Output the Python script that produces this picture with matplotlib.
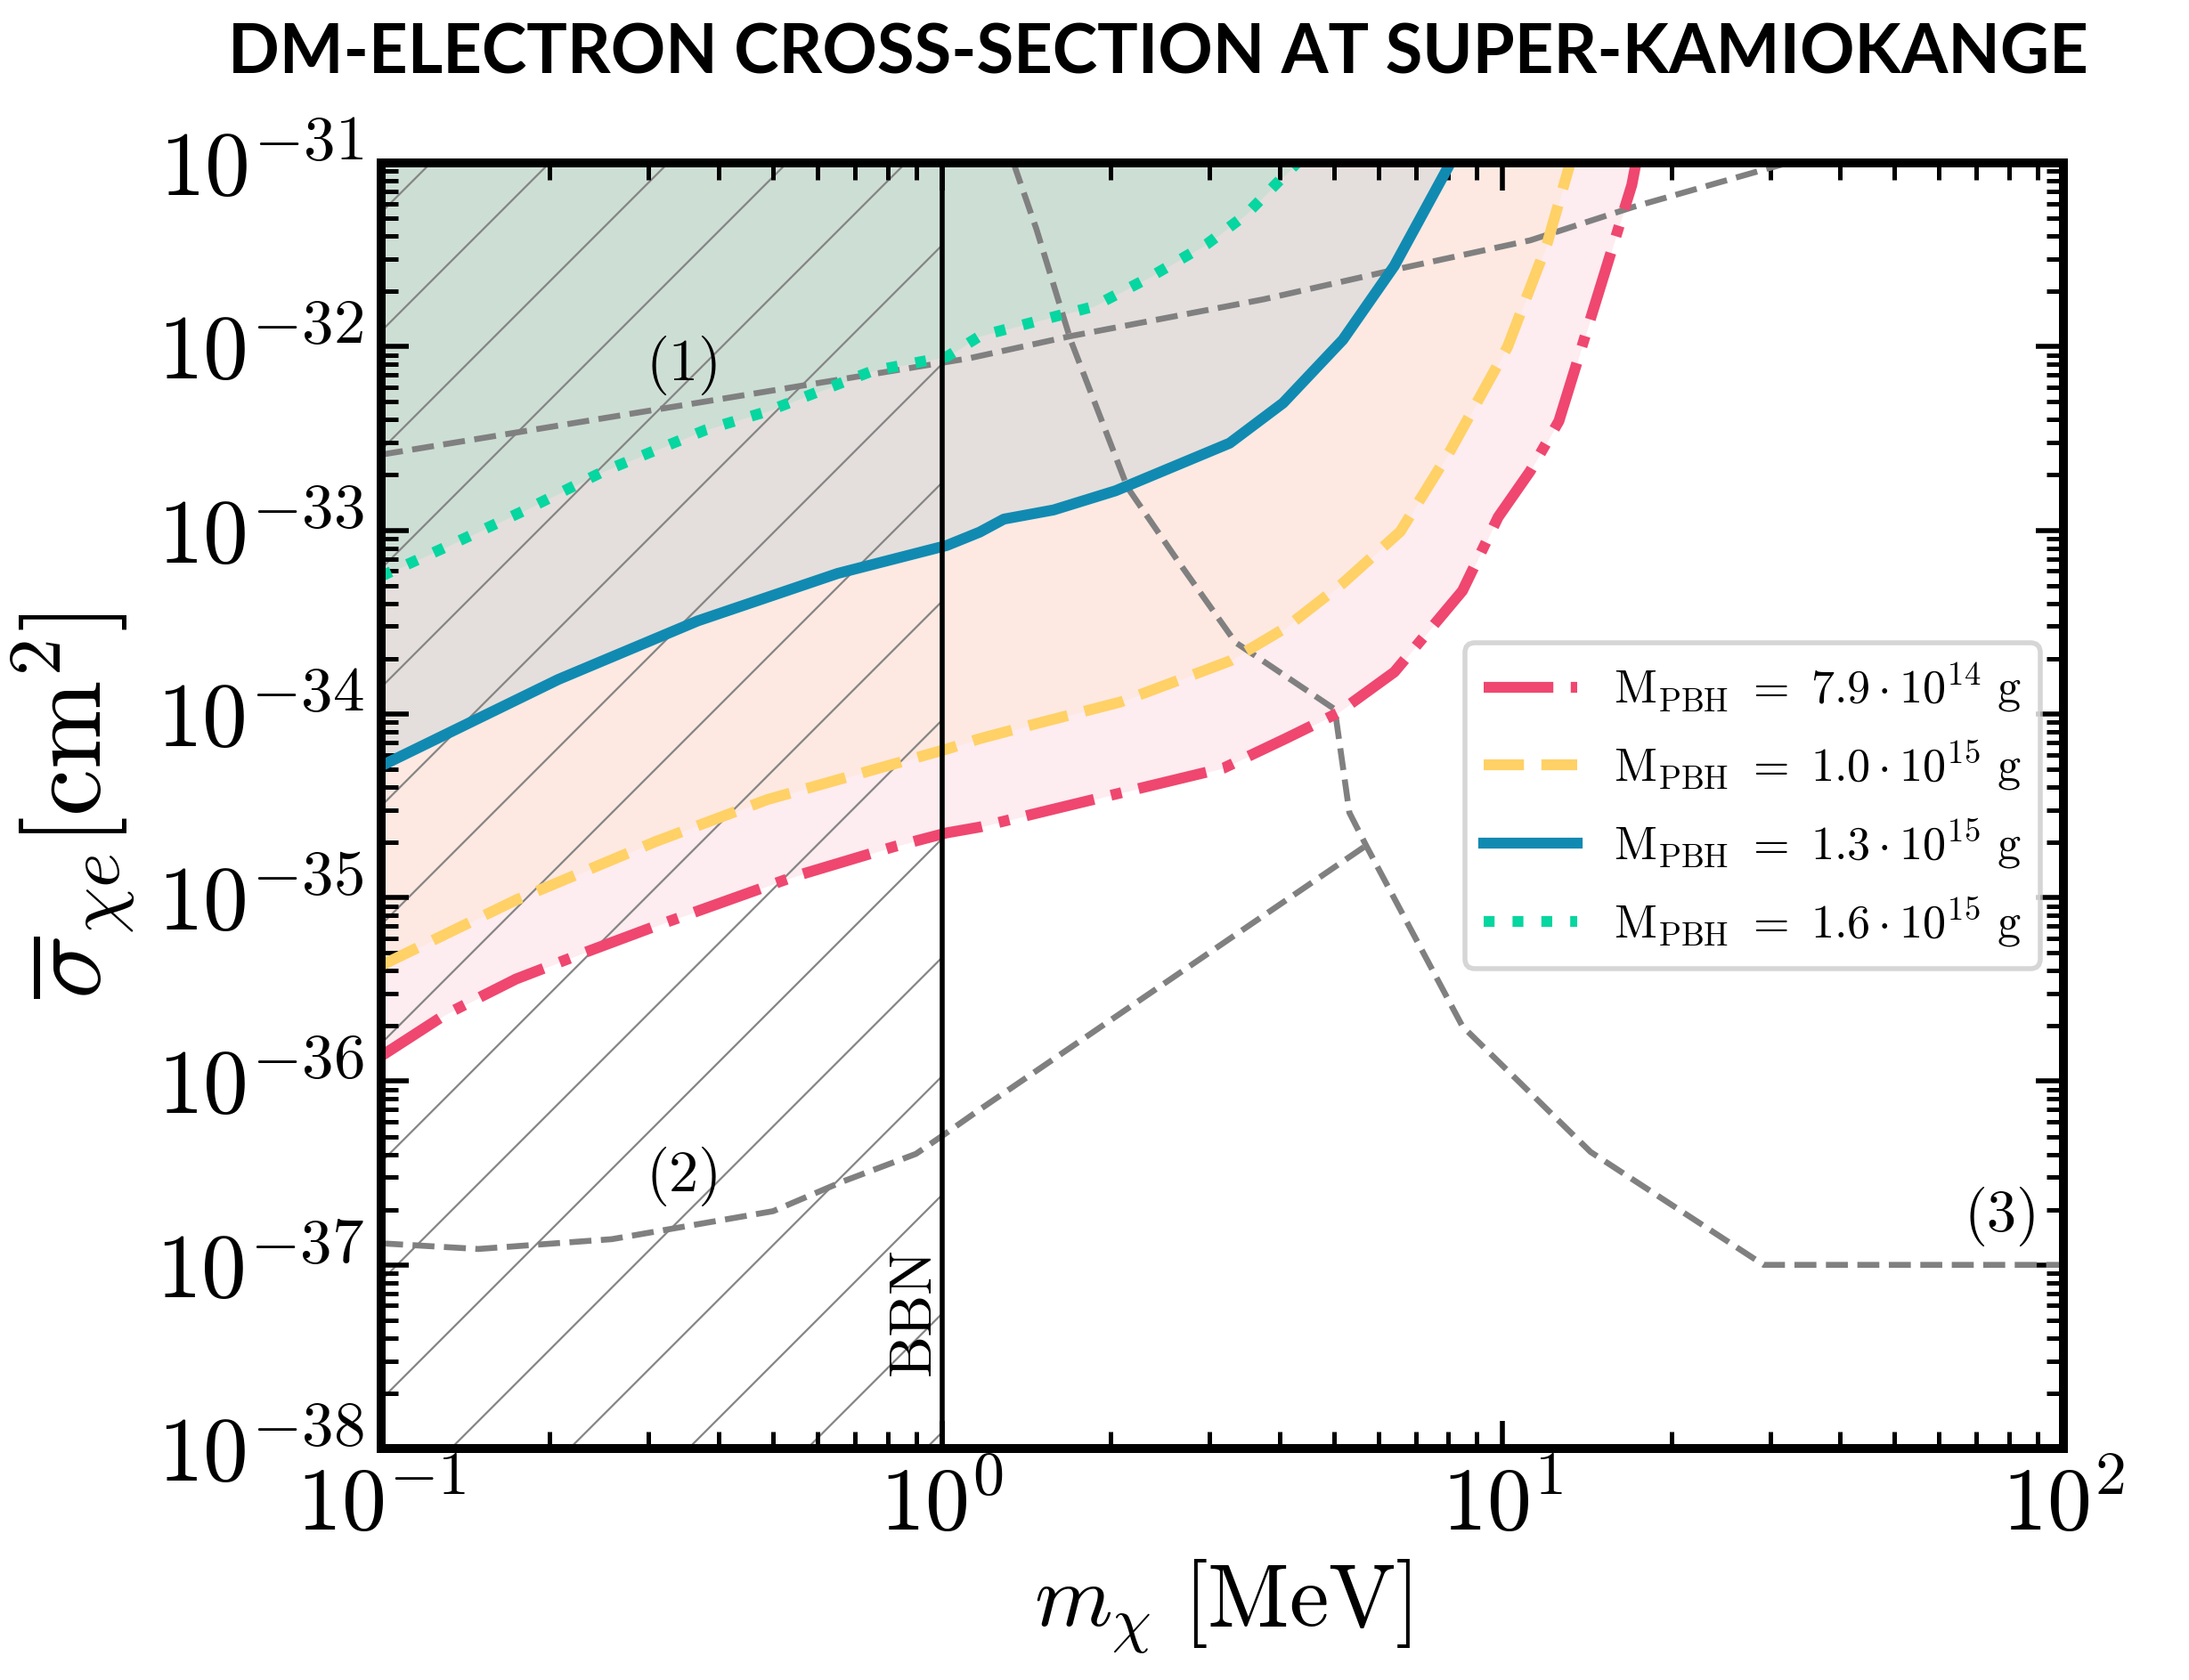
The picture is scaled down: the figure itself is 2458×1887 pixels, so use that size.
import numpy as np
import matplotlib
matplotlib.use('Agg')
import matplotlib.pyplot as plt
from matplotlib.ticker import LogLocator, NullFormatter

# ========== 字体 / 样式 ==========
plt.rcParams['mathtext.fontset'] = 'cm'
plt.rcParams['font.family'] = 'serif'
plt.rcParams['font.serif'] = ['cmr10', 'DejaVu Serif']
plt.rcParams['axes.formatter.use_mathtext'] = True
plt.rcParams['hatch.linewidth'] = 0.4
plt.rcParams['hatch.color'] = '#858585'

# ========== 数据 (m_chi [MeV], sigma [cm^2]) ==========
# M_PBH = 7.9e14 g
x_79 = [0.1, 0.13, 0.174, 0.23, 0.309, 0.549, 0.820, 1.02, 1.168, 1.696, 3.18, 4.10,
        5.08, 6.41, 8.48, 9.82, 11.2, 12.6, 15.2, 17.0, 17.4]
y_79 = [1.37e-36, 2.3e-36, 3.6e-36, 5.0e-36, 7.0e-36, 1.31e-35, 1.89e-35, 2.25e-35,
        2.42e-35, 3.19e-35, 5.07e-35, 7.33e-35, 1.01e-34, 1.69e-34, 4.68e-34, 1.18e-33,
        2.1e-33, 3.93e-33, 2.51e-32, 7.6e-32, 1.1e-31]
# M_PBH = 1.0e15 g
x_10 = [0.1, 0.174, 0.309, 0.489, 1.02, 1.168, 1.47, 2.08, 3.26, 4.10, 5.19, 6.57,
        8.07, 10.2, 12.0, 13.2]
y_10 = [4.27e-36, 9.7e-36, 2.02e-35, 3.42e-35, 6.43e-35, 7.33e-35, 8.83e-35, 1.16e-34,
        1.94e-34, 2.94e-34, 5.15e-34, 9.84e-34, 2.72e-33, 9.93e-33, 3.62e-32, 1.0e-31]
# M_PBH = 1.3e15 g
x_13 = [0.1, 0.207, 0.367, 0.652, 1.02, 1.168, 1.29, 1.582, 2.04, 3.26, 4.06, 5.19,
        6.41, 8.07]
y_13 = [5.21e-35, 1.54e-34, 3.21e-34, 5.82e-34, 8.26e-34, 9.77e-34, 1.15e-33, 1.29e-33,
        1.64e-33, 2.98e-33, 4.93e-33, 1.09e-32, 2.75e-32, 1.0e-31]
# M_PBH = 1.6e15 g
x_16 = [0.1, 0.129, 0.180, 0.249, 0.380, 0.487, 0.752, 1.02, 1.168, 1.47, 1.862, 2.35,
        2.97, 3.49, 4.11, 4.3]
y_16 = [5.62e-34, 7.98e-34, 1.28e-33, 2.09e-33, 3.53e-33, 4.43e-33, 7.37e-33, 8.8e-33,
        1.14e-32, 1.37e-32, 1.65e-32, 2.39e-32, 3.62e-32, 5.25e-32, 8.73e-32, 1.0e-31]

# 灰色虚线 (1) (2) (3)
x_b1 = [0.1, 1.117, 1.696, 3.75, 6.41, 11.2, 17.07, 30.6, 33.0]
y_b1 = [2.58e-33, 8.63e-33, 1.14e-32, 1.81e-32, 2.62e-32, 3.79e-32, 5.75e-32, 9.57e-32, 1.02e-31]
x_b2 = [0.1, 0.149, 0.258, 0.349, 0.50, 0.663, 0.899, 1.01, 1.17, 5.71]
y_b2 = [1.31e-37, 1.22e-37, 1.38e-37, 1.62e-37, 1.96e-37, 2.83e-37, 4.02e-37, 5.13e-37,
        7.03e-37, 1.92e-35]
x_b3 = [1.342, 1.475, 1.696, 2.143, 2.64, 3.34, 5.02, 5.33, 5.71, 8.48, 14.35, 29.2, 100]
y_b3 = [1.0e-31, 4.35e-32, 1.09e-32, 1.71e-33, 6.76e-34, 2.45e-34, 1.06e-34, 2.90e-35,
        1.92e-35, 1.99e-36, 4.12e-37, 1.0e-37, 1.0e-37]

labels = [r'$\mathrm{M_{PBH}\ =\ 7.9\cdot10^{14}\ g}$',
          r'$\mathrm{M_{PBH}\ =\ 1.0\cdot10^{15}\ g}$',
          r'$\mathrm{M_{PBH}\ =\ 1.3\cdot10^{15}\ g}$',
          r'$\mathrm{M_{PBH}\ =\ 1.6\cdot10^{15}\ g}$']
colors = ['#EF476F', '#FFD166', '#118AB2', '#06D6A0']
styles = ['-.', '--', '-', ':']

x_lim = (0.1, 100)
y_lim = (1e-38, 1e-31)
x_bbn = 1.0

# ========== 画图 ==========
fig = plt.figure(figsize=(6.145, 4.7175), dpi=400)
ax = fig.add_axes([0.1741, 0.1378, 0.7685, 0.7652])
ax.set_xscale('log')
ax.set_yscale('log')

curves = [(x_79, y_79), (x_10, y_10), (x_13, y_13), (x_16, y_16)]

# 填充区域（曲线以上）
for (xs, ys), c in zip(curves, colors):
    ax.fill_between(xs, ys, y_lim[1], color=c, alpha=0.1, linewidth=0)

# BBN 阴影
ax.fill_betweenx(y_lim, x_lim[0], x_bbn, facecolor='none', edgecolor='#858585',
                 hatch='/', linewidth=0)

# 灰色约束线
for xs, ys in [(x_b1, y_b1), (x_b2, y_b2), (x_b3, y_b3)]:
    ax.plot(xs, ys, ls='--', color='gray', lw=1.2)

# PBH 曲线
for (xs, ys), c, ls, lab in zip(curves, colors, styles, labels):
    ax.plot(xs, ys, ls=ls, color=c, lw=2.2, label=lab)

ax.axvline(x_bbn, color='black', lw=1.0)

ax.text(0.347, 7.9e-33, '(1)', fontsize=12, ha='center', va='center')
ax.text(0.347, 3.03e-37, '(2)', fontsize=12, ha='center', va='center')
ax.text(77.6, 1.83e-37, '(3)', fontsize=12, ha='center', va='center')
ax.text(0.894, 5.56e-38, 'BBN', fontsize=12, rotation=90, ha='center', va='center')

ax.set_xlim(*x_lim)
ax.set_ylim(*y_lim)

for axis in (ax.xaxis, ax.yaxis):
    axis.set_major_locator(LogLocator(base=10, numticks=30))
    axis.set_minor_locator(LogLocator(base=10, subs=np.arange(2, 10), numticks=300))
    axis.set_minor_formatter(NullFormatter())

ax.tick_params(which='both', direction='in', top=True, right=True)
ax.tick_params(axis='x', labelsize=18)
ax.tick_params(axis='y', labelsize=18.3)
ax.tick_params(which='major', length=5.5, width=1.0)
ax.tick_params(which='minor', length=3.5, width=0.9)
for sp in ax.spines.values():
    sp.set_linewidth(1.8)

ax.set_xlabel(r'$m_\chi\ [\mathrm{MeV}]$', fontsize=18, labelpad=2)
ax.set_ylabel(r'$\overline{\sigma}_{\chi e}[\mathrm{cm}^2]$', fontsize=21.5, labelpad=4)

ax.legend(loc='center right', fontsize=9.4)

fig.text(0.529, 0.968, 'DM-ELECTRON CROSS-SECTION AT SUPER-KAMIOKANGE',
         fontsize=13.7, fontweight='bold', family='Lato', ha='center', va='center')

fig.savefig('out.png', dpi=400)
